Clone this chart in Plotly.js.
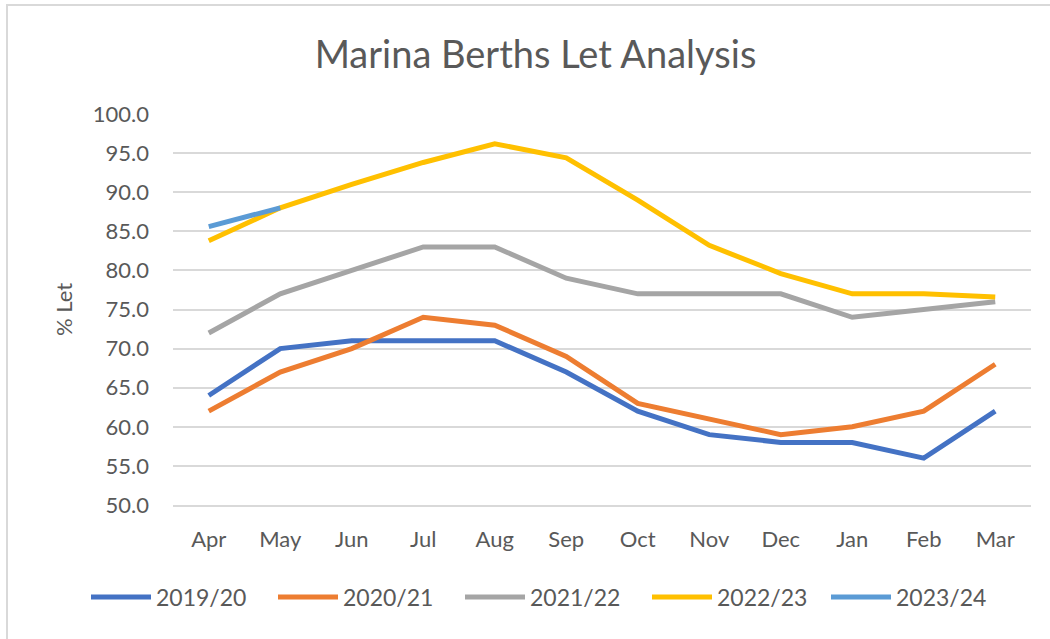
<!DOCTYPE html>
<html>
<head>
<meta charset="utf-8">
<script src="https://cdn.plot.ly/plotly-3.0.1.min.js"></script>
<style>
  html, body { margin: 0; padding: 0; background: #ffffff; }
  #wrap { position: relative; width: 1050px; height: 639px; overflow: hidden; }
  #chart { position: absolute; left: 0; top: 0; width: 1050px; height: 639px; }
  #frame { position: absolute; left: 6px; top: 4px; width: 1100px; height: 700px;
           border-top: 2px solid #D9D9D9; border-left: 2px solid #D9D9D9; pointer-events: none; }
</style>
</head>
<body>
<div id="wrap">
  <div id="chart"></div>
  <div id="frame"></div>
</div>
<script>
const months = ["Apr","May","Jun","Jul","Aug","Sep","Oct","Nov","Dec","Jan","Feb","Mar"];
const s2019_20 = [64, 70, 71, 71, 71, 67, 62, 59, 58, 58, 56, 62];
const s2020_21 = [62, 67, 70, 74, 73, 69, 63, 61, 59, 60, 62, 68];
const s2021_22 = [72, 77, 80, 83, 83, 79, 77, 77, 77, 74, 75, 76];
const s2022_23 = [83.8, 88, 91, 93.8, 96.2, 94.4, 89, 83.2, 79.6, 77, 77, 76.6];
const s2023_24 = [85.6, 88];
const seriesNames = ["2019/20","2020/21","2021/22","2022/23","2023/24"];
const seriesColors = ["#4472C4","#ED7D31","#A5A5A5","#FFC000","#5B9BD5"];
const seriesValues = [s2019_20, s2020_21, s2021_22, s2022_23, s2023_24];
const seriesLegend = ["legend","legend","legend","legend","legend2"];

const FONT = "Lato, 'Open Sans', sans-serif";
const TXT = "#595959";

const traces = seriesValues.map((vals, i) => ({
  type: "scatter",
  mode: "lines",
  name: seriesNames[i],
  legend: seriesLegend[i],
  x: months.slice(0, vals.length),
  y: vals,
  line: { color: seriesColors[i], width: 5 },
  hoverinfo: "x+y+name"
}));

const legendBase = {
  orientation: "h",
  xref: "container", yref: "container",
  xanchor: "left",
  y: 1 - 597/639, yanchor: "middle",
  font: { family: FONT, size: 23, color: TXT },
  itemwidth: 60,
  entrywidth: 112,
  entrywidthmode: "pixels",
  traceorder: "normal",
  bgcolor: "rgba(0,0,0,0)"
};

const layout = {
  width: 1050,
  height: 639,
  margin: { l: 173, r: 19, t: 114, b: 134, autoexpand: false },
  paper_bgcolor: "rgba(0,0,0,0)",
  plot_bgcolor: "#ffffff",
  font: { family: FONT, color: TXT, size: 22 },
  title: {
    text: "Marina Berths Let Analysis",
    font: { family: FONT, size: 38, color: TXT },
    xref: "container", yref: "container",
    x: 0.51, xanchor: "center",
    y: 1 - 55/639, yanchor: "middle"
  },
  xaxis: {
    type: "category",
    categoryorder: "array",
    categoryarray: months,
    range: [-0.5, 11.5],
    showgrid: false,
    showline: true,
    linecolor: "#D9D9D9",
    linewidth: 2,
    ticks: "",
    ticklabelstandoff: 14,
    tickfont: { family: FONT, size: 22, color: TXT },
    fixedrange: true
  },
  yaxis: {
    range: [50, 100],
    dtick: 5,
    tick0: 50,
    tickformat: ".1f",
    showgrid: true,
    gridcolor: "#D9D9D9",
    gridwidth: 2,
    zeroline: false,
    ticks: "",
    ticklabelstandoff: 23,
    tickfont: { family: FONT, size: 22, color: TXT },
    title: { text: "% Let", font: { family: FONT, size: 22, color: TXT }, standoff: 14 },
    fixedrange: true
  },
  showlegend: true,
  legend: Object.assign({}, legendBase, { x: 86/1050 }),
  legend2: Object.assign({}, legendBase, { x: 826/1050 })
};

Plotly.newPlot("chart", traces, layout, { displayModeBar: false, staticPlot: false });
</script>
</body>
</html>
